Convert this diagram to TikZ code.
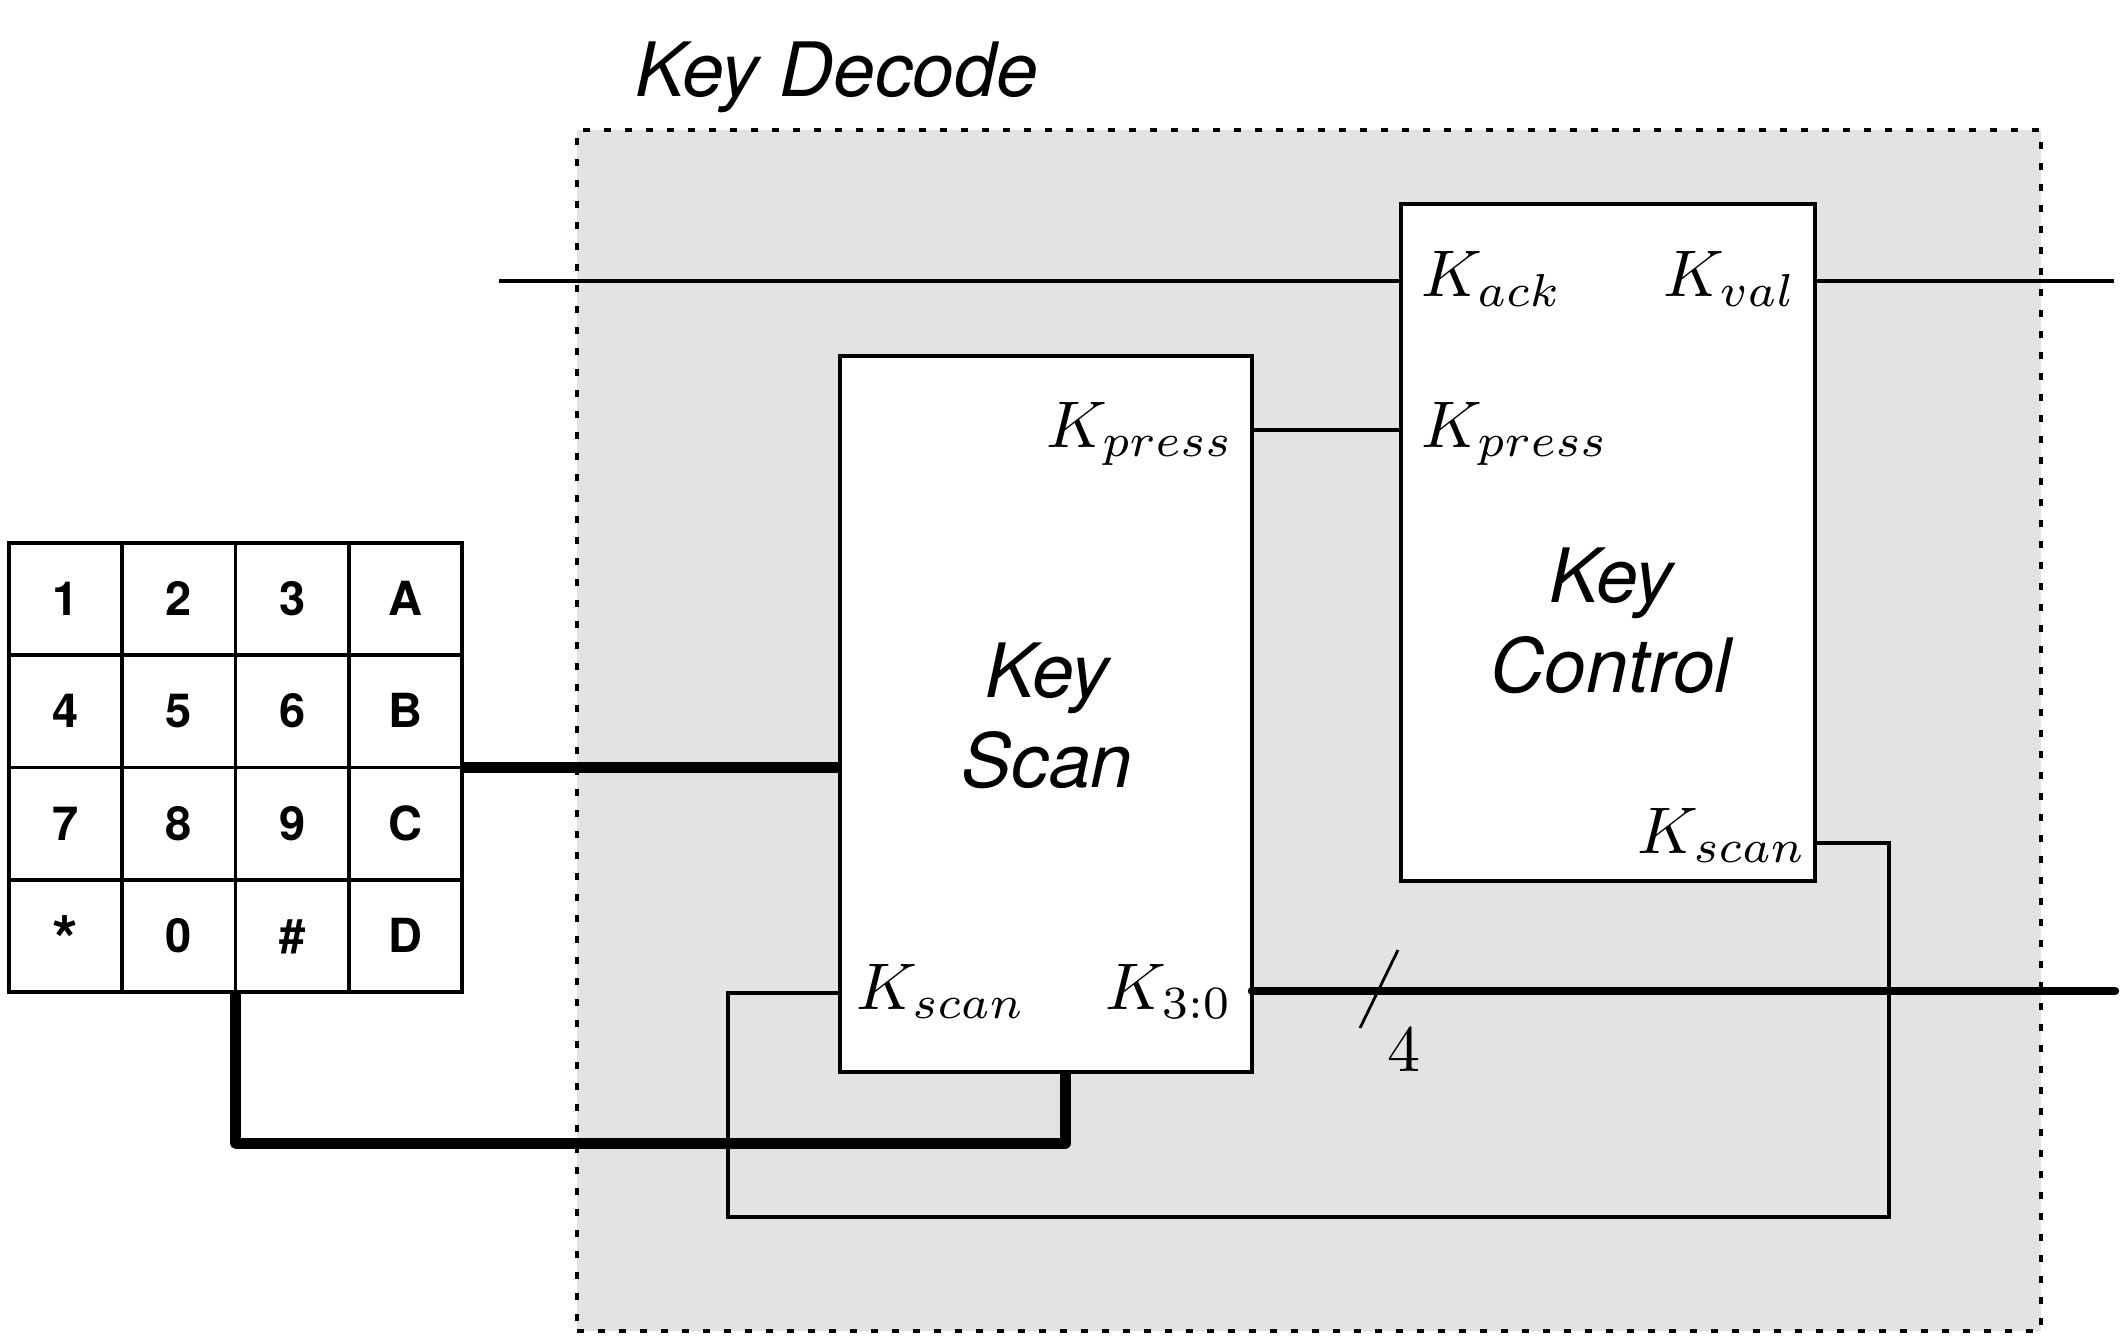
\documentclass[tikz,border=0pt]{standalone}
\usepackage{graphicx}
\usepackage{fontspec}
\setsansfont{TeX Gyre Heros}
\definecolor{decodegray}{HTML}{E3E3E3}
\newcommand{\portlab}[1]{\scalebox{3.3}{$#1$}}
\newcommand{\padstar}{\raisebox{-5.3pt}{\scalebox{1.4}{*}}}
\begin{document}
\begin{tikzpicture}[x=0.5pt,y=-0.5pt,
  wire/.style={line width=1.8pt},
  padbus/.style={line width=5.5pt, line join=round},
  outbus/.style={line width=4.2pt, line cap=round},
  block/.style={draw, line width=1.7pt, fill=white, inner sep=0pt, outer sep=0pt},
  decodebox/.style={draw, fill=decodegray, line width=2pt, dash pattern=on 3.5pt off 7pt, inner sep=0pt, outer sep=0pt},
  port/.style={inner sep=0pt},
  title/.style={font=\fontsize{37.5pt}{45pt}\selectfont\sffamily\itshape, align=center, inner sep=0pt},
  keycell/.style={draw, line width=1.9pt, minimum width=56.625pt, minimum height=56.125pt,
    inner sep=0pt, outer sep=0pt, text height=16.6pt, text depth=0pt,
    font=\fontsize{23.5pt}{28pt}\selectfont\sffamily\bfseries},
  padframe/.style={inner sep=0pt, outer sep=0pt}
]
\useasboundingbox (0,0) rectangle (2125,1337);

% enclosing Key Decode region
\node[decodebox, minimum width=732pt, minimum height=600.5pt] (decode) at (1309,730.5) {};
\node[title, anchor=base west] (decodetitle) at (635,97) {Key Decode};

% keypad
\node[padframe, minimum width=226.5pt, minimum height=224.5pt] (keypad) at (235.5,767.5) {};
\foreach \lab [count=\i from 0] in {1,2,3,A,4,5,6,B,7,8,9,C,\padstar,0,\#,D} {
  \pgfmathtruncatemacro{\c}{mod(\i,4)}
  \pgfmathtruncatemacro{\r}{floor(\i/4)}
  \node[keycell] (key\i) at ({9+113.25*(\c+0.5)},{543+112.25*(\r+0.5)}) {\lab};
}

% blocks
\node[block, minimum width=206pt, minimum height=358pt] (scan) at (1046,714) {};
\node[block, minimum width=207pt, minimum height=338.5pt] (ctrl) at (1608,542.5) {};
\node[title] (scantitle) at (1047,716) {Key\\Scan};
\node[title] (ctrltitle) at (1611,621) {Key\\Control};

% port labels
\node[port, anchor=base east] (scanpress) at (1234,447) {\portlab{K_{press}}};
\node[port, anchor=base west] (scanscan) at (856,1009) {\portlab{K_{scan}}};
\node[port, anchor=base east] (scanout) at (1233,1009) {\portlab{K_{3:0}}};
\node[port, anchor=base west] (ctrlack) at (1421,297) {\portlab{K_{ack}}};
\node[port, anchor=base east] (ctrlval) at (1797,297) {\portlab{K_{val}}};
\node[port, anchor=base west] (ctrlpress) at (1421,447) {\portlab{K_{press}}};
\node[port, anchor=base east] (ctrlscan) at (1807,853) {\portlab{K_{scan}}};
\node[port] (buswidth) at (1404,1050) {\portlab{4}};

% coordinates
\coordinate (ackin) at (499,281);
\coordinate (valout) at (2114,281);
\coordinate (presslvl) at (0,430);
\coordinate (scanlvl) at (0,993);
\coordinate (loopA) at (728,993);
\coordinate (loopB) at (728,1217);
\coordinate (loopC) at (1889,1217);
\coordinate (loopD) at (1889,843);
\coordinate (outlvl) at (0,991);
\coordinate (outend) at (2115,991);
\coordinate (padlow) at (0,1143);
\coordinate (padup) at (1065,1143);
\coordinate (slashA) at (1360,1028);
\coordinate (slashB) at (1398,950);

% thin wires
\draw[wire] (ackin) -- (ackin -| ctrl.west);
\draw[wire] (valout -| ctrl.east) -- (valout);
\draw[wire] (scan.east |- presslvl) -- (ctrl.west |- presslvl);
\draw[wire] (scan.west |- scanlvl) -- (loopA) -- (loopB) -- (loopC) -- (loopD) -- (ctrl.east |- loopD);

% buses
\draw[padbus] (keypad.east) -- (scan.west |- keypad.east);
\draw[padbus] (keypad.south) -- (keypad.south |- padlow) -- (padup) -- (padup |- scan.south);
\draw[outbus] (scan.east |- outlvl) -- (outend);
\draw[line width=1.4pt] (slashA) -- (slashB);
\end{tikzpicture}
\end{document}
